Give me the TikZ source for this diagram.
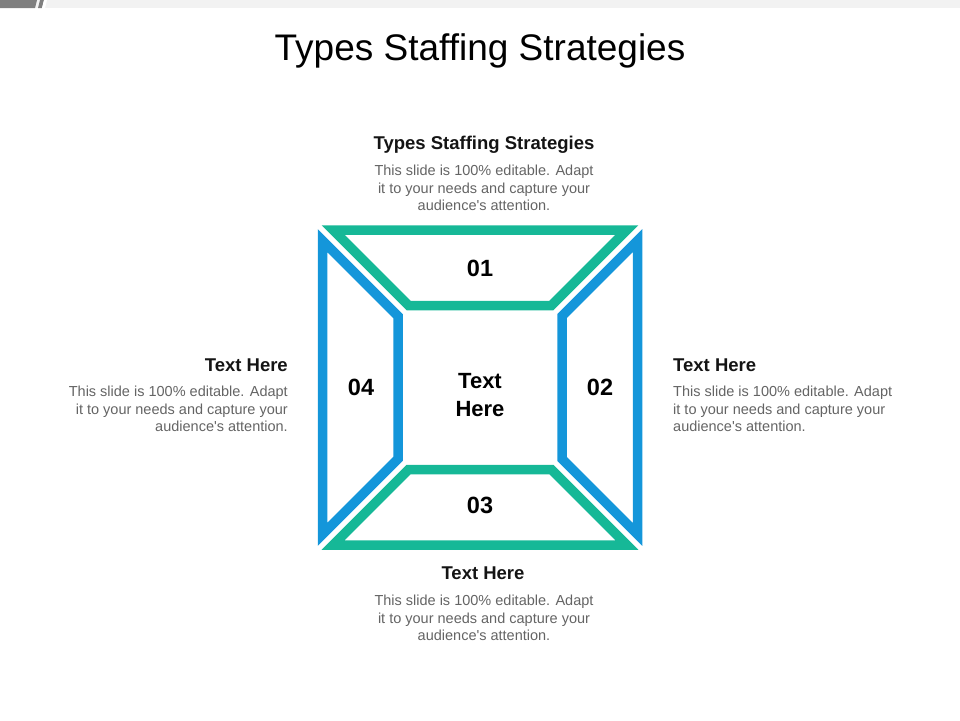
\documentclass[tikz,border=0pt]{standalone}
\usepackage{fontspec}
\setmainfont{Liberation Sans}
\definecolor{tgreen}{RGB}{22,184,151}
\definecolor{tblue}{RGB}{20,150,218}
\definecolor{bodygray}{RGB}{100,100,100}
\definecolor{headblack}{RGB}{20,20,20}
\definecolor{barlight}{RGB}{242,242,242}
\definecolor{bardark}{RGB}{127,127,127}
\newcommand{\bodytext}{This slide is 100\% editable. Adapt\\it to your needs and capture your\\audience\textquotesingle s attention.}
\begin{document}
\begin{tikzpicture}[x=1pt,y=-1pt,
  frame/.style={line width=9.5pt, line join=miter},
  numtxt/.style={inner sep=0pt, font=\bfseries\fontsize{23.5}{26}\selectfont, text=black},
  headtxt/.style={inner sep=0pt, font=\bfseries\fontsize{18.5}{21}\selectfont, text=headblack},
  bodytxt/.style={inner sep=0pt, font=\fontsize{14.5}{17.5}\selectfont, text=bodygray}
]
\useasboundingbox (0,0) rectangle (960,720);
% top bar
\fill[barlight] (0,0) rectangle (960,8);
\fill[bardark] (0,0) -- (37,0) -- (35,8) -- (0,8) -- cycle;
\fill[bardark] (40,0) -- (44,0) -- (42,8) -- (38,8) -- cycle;
\fill[white] (44,0) -- (47,0) -- (45,8) -- (42,8) -- cycle;
% title
\node[inner sep=0pt, font=\fontsize{37}{42}\selectfont, text=black] (title) at (480,51) {Types Staffing Strategies};
% shapes
\draw[frame, tgreen] (333.1,230) -- (626.9,230) -- (551.4,305.5) -- (408.6,305.5) -- cycle;
\draw[frame, tgreen] (333.1,545) -- (626.9,545) -- (551.4,469.5) -- (408.6,469.5) -- cycle;
\draw[frame, tblue] (322.5,240.6) -- (398,316.1) -- (398,458.9) -- (322.5,534.4) -- cycle;
\draw[frame, tblue] (637.5,240.6) -- (562,316.1) -- (562,458.9) -- (637.5,534.4) -- cycle;
% numbers
\node[numtxt] (n1) at (480,268) {01};
\node[numtxt] (n2) at (600,387) {02};
\node[numtxt] (n3) at (480,505) {03};
\node[numtxt] (n4) at (361,387) {04};
\node[inner sep=0pt, align=center, font=\bfseries\fontsize{22}{28}\selectfont, text=black] (center) at (480,395) {Text\\Here};
% top text
\node[headtxt] (h1) at (484,144.5) {Types Staffing Strategies};
\node[bodytxt, align=center] (b1) at (484,188) {\bodytext};
% left
\node[headtxt, anchor=east] (h4) at (288,365.5) {Text Here};
\node[bodytxt, align=right, anchor=east] (b4) at (288,409) {\bodytext};
% right
\node[headtxt, anchor=west] (h2) at (673,365.5) {Text Here};
\node[bodytxt, align=left, anchor=west] (b2) at (673,409) {\bodytext};
% bottom
\node[headtxt] (h3) at (483,573.5) {Text Here};
\node[bodytxt, align=center] (b3) at (484,618) {\bodytext};
\end{tikzpicture}
\end{document}
